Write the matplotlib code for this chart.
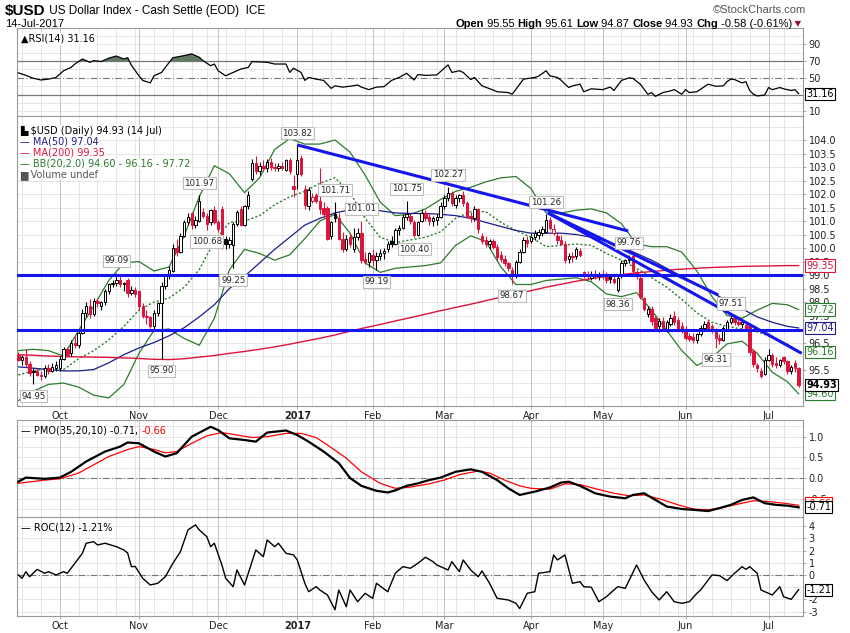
import matplotlib
matplotlib.use("Agg")
import matplotlib.pyplot as plt
import numpy as np
import pandas as pd

W, H = 850, 633

HOLIDAYS = ["2016-11-24", "2016-12-26", "2017-01-02", "2017-01-16",
            "2017-02-20", "2017-04-14", "2017-05-29", "2017-07-04"]

# daily candles 16-Sep-2016 .. 14-Jul-2017
opens = [
    96.05, 95.85, 95.95, 95.70, 95.40, 95.45, 95.30, 95.25, 95.55, 95.45, 95.55,
    95.55, 95.90, 96.25, 96.10, 96.50, 96.40, 96.85, 97.60, 97.85, 97.55, 98.05, 97.85, 98.00, 98.40, 98.65, 98.70, 98.80, 98.65, 98.80, 98.35, 98.45,
    98.40, 97.85, 97.50, 97.45, 97.10, 97.60, 97.95, 98.60, 98.95, 99.15, 100.00, 99.85, 100.45, 100.95, 101.30, 100.85, 101.00, 101.35, 101.20, 100.95, 101.40,
    100.95, 101.45, 100.35, 100.15, 100.10, 100.90, 101.45, 100.85, 101.55, 102.55, 103.15, 102.85, 103.05, 102.95, 103.20, 103.00, 102.95, 103.05, 102.90, 103.25, 102.30,
    102.75, 103.35, 102.20, 101.55, 101.75, 101.95, 101.75, 101.50, 101.50, 100.45, 101.25, 101.10, 100.35, 99.95, 100.40, 99.95, 100.40, 100.55, 99.60, 99.50,
    99.75, 99.55, 99.70, 99.80, 99.95, 100.25, 100.15, 100.65, 100.75, 101.15, 101.20, 100.95, 100.50, 101.00, 101.30, 101.15, 101.00, 101.05, 101.15,
    101.55, 101.85, 102.05, 101.60, 101.85, 101.95, 101.65, 101.20, 101.10, 101.45, 100.45, 100.30, 100.15, 100.25, 100.05, 99.75, 99.60, 99.45, 99.20, 98.95, 99.50, 99.85, 100.30,
    100.25, 100.40, 100.50, 100.55, 100.60, 101.05, 100.55, 100.45, 100.30, 100.15, 99.60, 99.70, 99.70, 99.90, 99.10, 99.00, 98.90, 99.05, 98.95,
    99.05, 98.95, 98.95, 98.85, 98.45, 98.95, 99.45, 99.55, 99.70, 99.10, 98.90, 98.15, 97.55, 97.75, 97.40, 97.10, 97.30, 97.00, 97.20, 97.50, 97.35, 97.10,
    97.00, 96.75, 96.70, 96.60, 96.80, 97.05, 97.25, 97.10, 97.00, 96.65, 96.60, 97.00, 97.25, 97.40, 97.25, 97.20, 97.15, 97.10, 96.20, 95.65, 95.45, 95.35,
    95.85, 96.05, 95.75, 95.65, 95.95, 95.80, 95.45, 95.75, 95.55,
]
highs = [
    96.15, 96.05, 96.25, 95.80, 95.55, 95.55, 95.45, 95.65, 95.70, 95.75, 95.80,
    96.00, 96.35, 96.35, 96.60, 96.75, 96.95, 97.75, 98.00, 98.10, 98.15, 98.15, 98.05, 98.50, 98.70, 98.80, 99.09, 98.95, 98.75, 98.90, 98.60, 98.55,
    98.45, 97.95, 97.70, 97.50, 97.70, 98.00, 98.75, 99.05, 99.35, 100.15, 100.35, 100.55, 101.05, 101.30, 101.35, 101.20, 101.97, 101.50, 101.30, 101.45, 101.55,
    101.05, 101.55, 100.45, 100.40, 100.95, 101.40, 101.55, 101.60, 102.10, 103.30, 103.40, 103.20, 103.25, 103.30, 103.35, 103.15, 103.15, 103.20, 103.30, 103.35, 102.70,
    103.82, 103.45, 102.35, 102.25, 102.05, 102.05, 102.95, 101.70, 101.55, 101.00, 101.71, 101.30, 100.60, 100.50, 100.55, 100.75, 100.75, 101.01, 99.85, 99.85,
    99.95, 99.85, 99.95, 100.00, 100.25, 100.45, 100.75, 100.85, 101.25, 101.75, 101.30, 101.05, 101.00, 101.45, 101.40, 101.25, 101.20, 101.25, 101.70,
    101.95, 102.27, 102.10, 101.95, 102.00, 102.10, 101.75, 101.35, 101.55, 101.50, 100.55, 100.45, 100.35, 100.35, 100.15, 99.90, 99.75, 99.50, 99.30, 99.55, 99.95, 100.40, 100.45,
    100.55, 100.65, 100.70, 100.80, 101.26, 101.15, 100.90, 100.60, 100.50, 100.25, 99.80, 99.85, 100.05, 100.00, 99.15, 99.15, 99.15, 99.20, 99.10,
    99.20, 99.10, 99.05, 98.95, 99.00, 99.55, 99.60, 99.76, 99.72, 99.20, 98.95, 98.20, 97.85, 97.85, 97.50, 97.40, 97.45, 97.35, 97.55, 97.65, 97.45, 97.25,
    97.10, 96.85, 96.85, 96.85, 97.15, 97.30, 97.35, 97.20, 97.05, 96.80, 97.10, 97.35, 97.51, 97.45, 97.40, 97.35, 97.25, 97.15, 96.25, 95.75, 95.55, 95.95,
    96.25, 96.10, 95.95, 95.90, 96.00, 95.85, 95.65, 95.85, 95.61,
]
lows = [
    95.80, 95.65, 95.60, 95.25, 94.95, 95.25, 95.10, 95.20, 95.35, 95.40, 95.45,
    95.45, 95.85, 95.95, 96.00, 96.30, 96.30, 96.80, 97.45, 97.40, 97.50, 97.80, 97.70, 97.90, 98.30, 98.55, 98.60, 98.55, 98.40, 98.20, 98.25, 98.20,
    97.70, 97.40, 97.20, 97.05, 97.00, 97.50, 95.90, 98.50, 98.85, 99.10, 99.70, 99.80, 100.40, 100.85, 100.70, 100.75, 100.95, 101.10, 100.68, 100.85, 100.90,
    100.60, 99.95, 99.95, 100.00, 99.25, 100.80, 100.80, 100.80, 101.45, 102.50, 102.75, 102.70, 102.85, 102.80, 102.90, 102.85, 102.85, 102.90, 102.85, 102.75, 101.90,
    102.20, 102.65, 101.45, 101.40, 101.65, 101.65, 101.25, 101.10, 100.30, 100.35, 100.95, 100.30, 99.85, 99.90, 100.05, 99.85, 100.30, 99.45, 99.40, 99.30,
    99.35, 99.19, 99.55, 99.60, 99.85, 100.05, 100.10, 100.50, 100.70, 101.05, 100.90, 100.40, 100.45, 100.95, 101.00, 100.85, 100.80, 100.85, 101.10,
    101.45, 101.75, 101.55, 101.50, 101.70, 101.55, 101.10, 100.95, 101.00, 100.55, 100.15, 100.05, 99.95, 99.95, 99.55, 99.50, 99.35, 99.15, 98.67, 98.90, 99.45, 99.80, 100.05,
    100.20, 100.30, 100.35, 100.45, 100.55, 100.65, 100.50, 100.15, 100.10, 99.45, 99.45, 99.50, 99.60, 99.65, 98.90, 98.80, 98.80, 98.85, 98.80,
    98.85, 98.70, 98.70, 98.65, 98.36, 98.90, 99.35, 99.45, 99.05, 98.85, 98.10, 97.65, 97.45, 97.15, 96.95, 96.90, 96.95, 96.90, 97.10, 97.15, 96.95, 96.85,
    96.60, 96.55, 96.50, 96.50, 96.75, 96.95, 97.00, 96.85, 96.31, 96.45, 96.55, 96.95, 97.20, 97.15, 97.10, 97.05, 96.95, 96.05, 95.60, 95.40, 95.17, 95.30,
    95.80, 95.60, 95.55, 95.60, 95.70, 95.35, 95.35, 95.40, 94.87,
]
closes = [
    95.85, 95.95, 95.70, 95.38, 95.45, 95.30, 95.25, 95.55, 95.45, 95.60, 95.65,
    95.90, 96.25, 96.05, 96.50, 96.40, 96.85, 97.60, 97.85, 97.55, 98.05, 97.95, 98.00, 98.40, 98.65, 98.70, 98.80, 98.65, 98.70, 98.35, 98.45, 98.30,
    97.85, 97.50, 97.45, 97.10, 97.60, 97.95, 98.60, 98.95, 99.20, 100.00, 99.85, 100.45, 100.95, 101.15, 100.85, 101.05, 101.75, 101.20, 100.90, 101.40, 100.95,
    100.70, 100.05, 100.15, 100.30, 100.90, 101.35, 100.85, 101.55, 101.95, 103.15, 102.85, 103.05, 102.95, 103.20, 103.00, 102.95, 103.05, 102.95, 103.25, 102.85, 102.20,
    103.25, 102.75, 101.60, 102.15, 101.90, 101.75, 101.45, 101.25, 100.35, 100.95, 101.10, 100.35, 99.95, 100.35, 100.15, 100.40, 100.55, 99.55, 99.50, 99.80,
    99.55, 99.70, 99.80, 99.90, 100.15, 100.15, 100.65, 100.75, 101.15, 101.25, 101.00, 100.50, 100.95, 101.30, 101.10, 101.00, 101.10, 101.15, 101.55,
    101.85, 102.05, 101.65, 101.85, 101.95, 101.65, 101.20, 101.10, 101.45, 100.70, 100.25, 100.15, 100.25, 100.05, 99.65, 99.60, 99.45, 99.25, 98.95, 99.50, 99.85, 100.30, 100.20,
    100.40, 100.55, 100.60, 100.70, 101.05, 100.75, 100.70, 100.30, 100.15, 99.55, 99.70, 99.65, 99.95, 99.75, 99.00, 98.95, 99.05, 98.95, 99.05,
    98.95, 98.80, 98.85, 98.75, 98.90, 99.45, 99.55, 99.60, 99.15, 98.95, 98.20, 97.75, 97.75, 97.30, 97.05, 97.30, 97.05, 97.25, 97.40, 97.25, 97.05, 96.95,
    96.65, 96.62, 96.60, 96.80, 97.05, 97.20, 97.05, 96.95, 96.65, 96.60, 97.05, 97.25, 97.40, 97.25, 97.20, 97.25, 97.05, 96.15, 95.70, 95.55, 95.25, 95.85,
    96.05, 95.70, 95.65, 95.85, 95.80, 95.45, 95.60, 95.55, 94.93,
]

# overlays, read every 4th session (plus the last one)
samp_idx = list(range(0, 205, 4)) + [207]
ma50 = [95.60, 95.55, 95.50, 95.45, 95.45, 95.50, 95.75, 96.05, 96.30, 96.50, 96.75, 97.05, 97.45, 97.90,
        98.50, 98.95, 99.45, 99.95, 100.40, 100.85, 101.10, 101.30, 101.42, 101.42, 101.38, 101.30, 101.28,
        101.28, 101.25, 101.20, 101.10, 100.95, 100.80, 100.65, 100.55, 100.55, 100.55, 100.50, 100.40, 100.25,
        100.05, 99.80, 99.55, 99.25, 98.95, 98.65, 98.35, 98.05, 97.75, 97.45, 97.25, 97.10, 97.04]
ma200 = [96.05, 96.03, 96.00, 95.98, 95.97, 95.96, 95.95, 95.93, 95.91, 95.88, 95.87, 95.90, 95.96, 96.02,
         96.10, 96.17, 96.25, 96.34, 96.44, 96.55, 96.66, 96.78, 96.92, 97.05, 97.17, 97.30, 97.42, 97.55,
         97.68, 97.80, 97.92, 98.05, 98.18, 98.30, 98.42, 98.55, 98.66, 98.77, 98.87, 98.95, 99.02, 99.08,
         99.13, 99.18, 99.22, 99.25, 99.28, 99.30, 99.32, 99.33, 99.34, 99.35, 99.35]
bb_up = [96.2, 96.25, 96.2, 96.0, 96.95, 97.85, 98.8, 99.45, 99.5, 99.15, 99.3, 100.45, 101.9, 103.05,
         102.75, 102.05, 102.6, 103.65, 104.05, 103.85, 103.85, 104.0, 103.55, 102.7, 101.7, 101.2, 101.25,
         101.45, 101.8, 102.1, 102.25, 102.45, 102.6, 102.65, 102.2, 101.3, 101.3, 101.4, 101.45, 101.3,
         100.9, 100.15, 100.05, 100.05, 99.85, 99.15, 98.2, 97.5, 97.4, 97.7, 97.95, 97.9, 97.72]
bb_mid = [95.3, 95.45, 95.55, 95.5, 95.9, 96.2, 96.6, 97.1, 97.7, 98.0, 98.15, 98.55, 99.2, 100.25,
          100.95, 101.0, 101.2, 101.6, 101.9, 102.1, 102.4, 102.6, 102.05, 101.1, 100.4, 100.2, 100.3,
          100.4, 100.6, 101.1, 101.35, 101.35, 100.95, 100.65, 100.4, 100.05, 100.1, 100.15, 100.1, 99.8,
          99.55, 99.25, 98.9, 98.55, 98.1, 97.6, 97.25, 97.1, 97.0, 96.9, 96.7, 96.45, 96.16]
bb_lo = [94.35, 94.7, 94.95, 95.0, 94.85, 94.55, 94.45, 94.95, 96.1, 96.95, 97.0, 96.65, 96.4, 97.4,
         99.2, 99.95, 99.8, 99.55, 99.75, 100.35, 101.0, 101.25, 100.55, 99.45, 99.1, 99.25, 99.3,
         99.35, 99.45, 100.1, 100.45, 100.25, 99.3, 98.65, 98.65, 98.8, 98.85, 98.9, 98.75, 98.3,
         98.2, 98.35, 97.7, 96.95, 96.2, 95.65, 95.95, 96.45, 96.55, 96.1, 95.4, 95.05, 94.6]

rsi_idx = [0, 2, 4, 6, 8, 10, 12, 14, 15, 17, 19, 20, 22, 24, 26, 28, 29, 30, 32, 33, 35, 36, 38, 39, 41,
           44, 46, 48, 49, 51, 52, 53, 55, 57, 59, 61, 62, 66, 68, 71, 72, 73, 75, 76, 77, 79, 81, 83, 84,
           86, 88, 90, 91, 93, 95, 97, 99, 101, 103, 105, 106, 108, 111, 114, 115, 117, 118, 120, 121, 123,
           126, 127, 130, 131, 133, 134, 137, 138, 140, 141, 143, 144, 146, 147, 149, 150, 152, 155, 157,
           158, 160, 162, 163, 165, 167, 168, 169, 171, 173, 174, 176, 177, 178, 180, 183, 185, 187, 188,
           189, 190, 192, 193, 194, 195, 196, 198, 199, 200, 202, 203, 205, 206, 207]
rsi_val = [56, 53, 49.5, 47.5, 48.5, 50.5, 58.5, 62.5, 66.5, 72.5, 68.5, 70.5, 69.5, 73.5, 76, 72.5, 74,
           65, 52.5, 47, 44, 52.5, 56.5, 62.5, 74, 76.5, 78.5, 74.5, 70.5, 64.5, 66.5, 58.5, 52.5, 56.5,
           60.5, 62.5, 69.5, 68.5, 66.5, 66.5, 56.5, 61.5, 56.5, 47, 50.5, 48.5, 47, 37.5, 40.5, 39, 40,
           41.5, 39, 36, 39, 39.5, 47, 50.5, 55.5, 47.5, 54, 53, 53.5, 65.5, 56.5, 58.5, 56.5, 48, 50.5,
           40.5, 35.5, 33.5, 32.5, 30.5, 42.5, 48.5, 50.5, 52, 58.5, 52.5, 50.5, 47, 38.5, 40.5, 42.5,
           33.5, 37, 36, 39, 35, 47, 50, 49.5, 42.5, 30.5, 32.5, 28, 32.5, 34.5, 36, 30.5, 36, 32.5, 33.5,
           42.5, 40, 40.5, 45.5, 48.5, 48, 44, 45.5, 35, 30.5, 28.5, 29.5, 38.5, 36, 38.5, 37, 35, 36, 31.16]

pmo_idx = [0, 2, 7, 11, 14, 18, 23, 27, 29, 32, 36, 39, 42, 46, 51, 53, 56, 60, 63, 66, 71, 74, 77, 81,
           85, 88, 91, 95, 98, 100, 103, 106, 109, 112, 116, 120, 123, 127, 130, 133, 137, 141, 144, 146,
           149, 153, 157, 161, 163, 166, 169, 172, 176, 179, 183, 186, 189, 192, 195, 198, 201, 204, 207]
pmo_val = [-0.09, 0.01, -0.02, 0.01, 0.15, 0.40, 0.64, 0.76, 0.86, 0.84, 0.64, 0.52, 0.60, 1.00, 1.24,
           1.16, 0.96, 0.92, 0.88, 1.10, 1.15, 1.04, 0.88, 0.64, 0.36, 0.0, -0.19, -0.31, -0.35, -0.30,
           -0.19, -0.13, -0.05, 0.01, 0.15, 0.21, 0.15, -0.05, -0.25, -0.41, -0.33, -0.23, -0.11, -0.09,
           -0.19, -0.37, -0.45, -0.49, -0.41, -0.37, -0.53, -0.69, -0.75, -0.77, -0.80, -0.73, -0.65,
           -0.53, -0.47, -0.61, -0.65, -0.67, -0.71]
sig_idx = [0, 7, 11, 16, 20, 24, 29, 32, 36, 39, 42, 46, 50, 54, 58, 62, 66, 71, 75, 79, 82, 87, 91, 96,
           100, 104, 109, 113, 117, 122, 125, 129, 133, 136, 141, 145, 149, 154, 158, 162, 166, 171, 175,
           179, 183, 187, 192, 195, 199, 203, 207]
sig_val = [-0.13, -0.05, -0.02, 0.12, 0.32, 0.52, 0.69, 0.76, 0.69, 0.61, 0.64, 0.84, 1.02, 1.10, 1.04,
           0.98, 1.00, 1.08, 1.08, 0.98, 0.80, 0.48, 0.15, -0.13, -0.25, -0.22, -0.14, -0.05, 0.08, 0.17,
           0.12, -0.05, -0.19, -0.25, -0.27, -0.14, -0.16, -0.28, -0.37, -0.43, -0.41, -0.53, -0.65, -0.75,
           -0.77, -0.71, -0.61, -0.55, -0.57, -0.61, -0.66]

roc_idx = [0, 1, 2, 3, 5, 7, 8, 10, 12, 13, 15, 17, 18, 20, 21, 23, 26, 28, 29, 30, 31, 33, 35, 37, 39,
           41, 43, 45, 47, 48, 50, 51, 52, 54, 55, 57, 58, 60, 61, 63, 65, 66, 68, 69, 71, 73, 74, 76, 77,
           79, 80, 82, 84, 85, 87, 88, 90, 92, 94, 95, 98, 100, 102, 104, 106, 108, 110, 111, 114, 115, 117,
           118, 120, 122, 123, 125, 127, 130, 132, 133, 135, 137, 138, 141, 142, 143, 145, 147, 149, 150,
           152, 154, 156, 159, 161, 164, 166, 168, 170, 172, 174, 176, 178, 180, 181, 184, 186, 188, 190,
           192, 193, 194, 196, 197, 200, 202, 203, 205, 206, 207]
roc_val = [0.0, -0.27, 0.27, -0.14, 0.46, 0.14, 0.27, 0.0, 0.27, 0.14, 0.96, 1.78, 2.6, 2.73, 2.46, 2.6,
           2.32, 2.05, 1.8, 0.68, 0.7, -0.27, -0.82, -0.68, -0.14, 0.96, 1.91, 3.69, 4.1, 3.69, 3.14, 2.32,
           2.6, 0.82, -0.27, -0.96, 0.41, -0.82, 0.14, 2.05, 1.5, 2.87, 2.32, 2.6, 1.78, 1.64, 1.23, -0.68,
           -1.37, -0.96, -1.23, -1.64, -2.85, -1.23, -2.6, -1.23, -2.19, -1.5, -1.91, -0.68, -1.37, 0.14,
           0.68, 0.55, 0.96, 1.45, 1.09, 0.82, 0.41, 1.09, 0.27, 1.23, 0.41, -0.14, 0.33, -0.68, -1.91,
           -2.05, -2.32, -2.75, -1.5, -1.37, 0.14, 0.27, 1.64, 1.23, 1.64, -0.68, -0.55, -0.96, -1.0,
           -2.19, -1.78, -0.96, -1.09, 0.82, -0.41, -1.37, -2.05, -1.37, -2.19, -2.32, -2.19, -1.5, -1.23,
           0.0, -0.05, -0.46, 0.14, 0.68, 0.46, 0.68, 0.14, -1.23, -1.64, -0.96, -1.78, -2.0, -1.6, -1.21]

# hand drawn trend lines (session index, price)
hlines = [99.0, 96.95]
trend_lines = [
    ((74, 103.82), (161.8, 100.63)),
    ((140.5, 101.3), (207.8, 96.1)),
    ((140.5, 101.3), (185.7, 98.26)),
]

# swing high/low annotations
swing_idx = [4, 26, 38, 48, 50, 57, 74, 84, 91, 95, 103, 105, 114, 131, 140, 159, 162, 185, 189]
swing_val = [94.95, 99.09, 95.90, 101.97, 100.68, 99.25, 103.82, 101.71, 101.01, 99.19, 101.75, 100.40,
             102.27, 98.67, 101.26, 98.36, 99.76, 96.31, 97.51]
swing_up = [False, True, False, True, False, False, True, True, True, False, True, False,
            True, False, True, False, True, False, True]

# right-axis ticks (labels hidden under the value tags are left out)
price_ticks = [95.5, 96.5, 97.5, 98.0, 98.5, 99.0, 99.5, 100.0, 100.5, 101.0, 101.5, 102.0,
               102.5, 103.0, 103.5, 104.0]
rsi_ticks = [10, 50, 70, 90]
pmo_ticks = [-0.5, 0.0, 0.5, 1.0]
roc_ticks = [-3, -2, 0, 1, 2, 3, 4]

RED = "#dc143c"
BLACK = "#000000"
GREEN = "#2c7a2c"
NAVY = "#1c1c8c"
BLUE = "#1515ee"
GRID = "#e2e2e2"
GRID_M = "#c4c4c4"
NARROW = ["Liberation Sans Narrow", "Liberation Sans", "DejaVu Sans"]

dates = pd.bdate_range("2016-09-16", "2017-07-14")
dates = dates[~dates.isin(pd.to_datetime(HOLIDAYS))]
n = len(dates)
x = np.arange(n)
month_idx = [i for i in range(1, n) if dates[i].month != dates[i - 1].month]
week_idx = [i for i in range(1, n) if dates[i].isocalendar()[1] != dates[i - 1].isocalendar()[1]]
month_lbl = ["2017" if dates[i].month == 1 else dates[i].strftime("%b") for i in month_idx]

XMIN, XMAX = -0.35, 208.15

fig = plt.figure(figsize=(W / 100, H / 100), dpi=100)


def px_axes(x0, y0, x1, y1):
    return fig.add_axes([x0 / W, 1 - y1 / H, (x1 - x0) / W, (y1 - y0) / H])


def style(ax, ylim, grid_vals, ticks, fmt):
    ax.set_xlim(XMIN, XMAX)
    ax.set_ylim(*ylim)
    for v in grid_vals:
        ax.axhline(v, color=GRID, lw=0.6, zorder=0)
    for i in week_idx:
        ax.axvline(i, color=GRID, lw=0.6, zorder=0)
    for i in month_idx:
        ax.axvline(i, color=GRID_M, lw=0.7, zorder=0)
    ax.yaxis.tick_right()
    ax.set_yticks(ticks)
    ax.set_yticklabels([fmt.format(t) for t in ticks])
    ax.tick_params(axis="y", length=2.5, width=0.6, color="#999999", labelsize=7,
                   pad=1.5, labelcolor="#222222")
    ax.set_xticks([])
    for s in ax.spines.values():
        s.set_color("#9a9a9a")
        s.set_linewidth(0.8)


def x_labels(ax):
    ax.set_xticks(month_idx)
    ax.set_xticklabels(month_lbl)
    ax.tick_params(axis="x", length=2, width=0.6, color="#999999", labelsize=7, pad=1.5,
                   labelcolor="#222222")
    for t in ax.get_xticklabels():
        if t.get_text() == "2017":
            t.set_fontweight("bold")


def tag(ax, val, txt, color, bold=False):
    ax.text(1.004, val, txt, transform=ax.get_yaxis_transform(), ha="left", va="center",
            fontsize=7, color=color, fontweight="bold" if bold else "normal", clip_on=False,
            zorder=10, bbox=dict(boxstyle="square,pad=0.12", fc="white", ec=color, lw=0.8))


# ---------------- RSI panel ----------------
ax_rsi = px_axes(17, 28, 803, 116)
style(ax_rsi, (4.6, 109.4), [10, 20, 40, 60, 80, 90, 100], rsi_ticks, "{:d}")
ax_rsi.axhline(70, color="#777777", lw=0.9, zorder=1)
ax_rsi.axhline(30, color="#777777", lw=0.9, zorder=1)
ax_rsi.axhline(50, color="#777777", lw=0.8, ls=(0, (6, 2, 1, 2)), zorder=1)
ri = np.array(rsi_idx)
rv = np.array(rsi_val)
ax_rsi.fill_between(ri, rv, 70, where=rv > 70, interpolate=True, color="#5f7a5f", lw=0, zorder=2)
ax_rsi.plot(ri, rv, color="black", lw=0.9, zorder=3)
tag(ax_rsi, rsi_val[-1], "31.16", BLACK)
ax_rsi.text(0.005, 0.88, "\u25B2RSI(14) 31.16", transform=ax_rsi.transAxes, fontsize=7,
            va="center", ha="left", zorder=6,
            bbox=dict(boxstyle="square,pad=0.1", fc="white", ec="none"))

# ---------------- price panel ----------------
ax = px_axes(17, 116, 803, 406)
style(ax, (94.15, 104.89), np.arange(94.5, 104.6, 0.5), price_ticks, "{:.1f}")
x_labels(ax)

ax.plot(samp_idx, bb_up, color=GREEN, lw=0.9, zorder=2)
ax.plot(samp_idx, bb_lo, color=GREEN, lw=0.9, zorder=2)
ax.plot(samp_idx, bb_mid, color=GREEN, lw=1.0, ls=(0, (1.5, 1.5)), zorder=2)
ax.plot(samp_idx, ma50, color=NAVY, lw=0.9, zorder=2)
ax.plot(samp_idx, ma200, color=RED, lw=1.0, zorder=2)

o = np.array(opens)
h = np.array(highs)
lo = np.array(lows)
c = np.array(closes)
prev = np.concatenate([[o[0]], c[:-1]])
col = np.where(c >= prev, BLACK, RED)
face = np.where(c >= o, "white", col)
body_lo = np.minimum(o, c)
body_h = np.maximum(np.abs(c - o), 0.025)
ax.vlines(x, np.minimum(lo, body_lo), np.maximum(h, body_lo + body_h), colors=col, lw=0.8, zorder=3)
ax.bar(x, body_h, bottom=body_lo, width=0.64, color=face, edgecolor=col, linewidth=0.7, zorder=4)

for v in hlines:
    ax.axhline(v, color=BLUE, lw=2.2, zorder=5)
for (i0, p0), (i1, p1) in trend_lines:
    ax.plot([i0, i1], [p0, p1], color=BLUE, lw=2.2, solid_capstyle="butt", zorder=5)

for i, v, up in zip(swing_idx, swing_val, swing_up):
    ax.annotate(f"{v:.2f}", xy=(i, v), xytext=(0, 8.5 if up else -8.5), textcoords="offset points",
                ha="center", va="center", fontsize=6.2, color="#222222", zorder=7,
                bbox=dict(boxstyle="square,pad=0.18", fc="white", ec="#bdbdbd", lw=0.8))

tag(ax, 99.35, "99.35", RED)
tag(ax, 97.72, "97.72", GREEN)
tag(ax, 97.04, "97.04", NAVY)
tag(ax, 96.16, "96.16", GREEN)
tag(ax, 94.60, "94.60", GREEN)
tag(ax, 94.93, "94.93", BLACK, bold=True)

leg = [("\u2599 $USD (Daily) 94.93 (14 Jul)", "black"),
       ("\u2014 MA(50) 97.04", NAVY),
       ("\u2014 MA(200) 99.35", RED),
       ("\u2014 BB(20,2.0) 94.60 - 96.16 - 97.72", GREEN),
       ("\u2587 Volume undef", "#555555")]
for k, (t, cc) in enumerate(leg):
    fig.text(20 / W, 1 - (131 + 10.8 * k) / H, t, fontsize=7, color=cc, ha="left", va="center",
             bbox=dict(boxstyle="square,pad=0.05", fc="white", ec="none"))

# ---------------- PMO panel ----------------
ax_pmo = px_axes(17, 420, 803, 517)
style(ax_pmo, (-0.944, 1.404), np.arange(-0.75, 1.3, 0.25), pmo_ticks, "{:.1f}")
ax_pmo.axhline(0, color="#777777", lw=0.8, ls=(0, (6, 2, 1, 2)), zorder=1)
ax_pmo.plot(sig_idx, sig_val, color="#ff0000", lw=0.9, zorder=3)
ax_pmo.plot(pmo_idx, pmo_val, color="black", lw=1.6, zorder=4)
tag(ax_pmo, -0.62, "-0.66", "#ff0000")
tag(ax_pmo, -0.71, "-0.71", BLACK)
t1 = ax_pmo.text(0.005, 0.89, "\u2014 PMO(35,20,10) -0.71, ", transform=ax_pmo.transAxes,
                 fontsize=7, va="center", ha="left", zorder=6)
ax_pmo.annotate("-0.66", xy=(1, 0.5), xycoords=t1, ha="left", va="center", fontsize=7,
                color="#ff0000", zorder=6)

# ---------------- ROC panel ----------------
ax_roc = px_axes(17, 517, 803, 616)
style(ax_roc, (-3.36, 4.75), np.arange(-3, 5, 1), roc_ticks, "{:d}")
ax_roc.axhline(0, color="#777777", lw=0.8, ls=(0, (6, 2, 1, 2)), zorder=1)
ax_roc.plot(roc_idx, roc_val, color="black", lw=1.0, zorder=3)
tag(ax_roc, -1.21, "-1.21", BLACK)
ax_roc.text(0.005, 0.89, "\u2014 ROC(12) -1.21%", transform=ax_roc.transAxes, fontsize=7,
            va="center", ha="left", zorder=6)
x_labels(ax_roc)

# ---------------- header ----------------
t = fig.text(5 / W, 1 - 11 / H, "$USD", fontsize=11, fontweight="bold", family=NARROW,
             ha="left", va="center")
plt.annotate(" US Dollar Index - Cash Settle (EOD)  ICE", xy=(1, 0.5), xycoords=t,
             ha="left", va="center", fontsize=8.5, family=NARROW)
fig.text(5 / W, 1 - 24 / H, "14-Jul-2017", fontsize=8, family=NARROW, ha="left", va="center")
fig.text(806 / W, 1 - 10 / H, "\u00a9StockCharts.com", fontsize=8, family=NARROW,
         color="#555555", ha="right", va="center")

parts = [("Open", True, "black"), (" 95.55 ", False, "black"), ("High", True, "black"),
         (" 95.61 ", False, "black"), ("Low", True, "black"), (" 94.87 ", False, "black"),
         ("Close", True, "black"), (" 94.93 ", False, "black"), ("Chg", True, "black"),
         (" -0.58 (-0.61%)", False, "black"), (" \u25BC", False, "#8b1a3a")]
prev_t = fig.text(455 / W, 1 - 24 / H, parts[0][0], fontsize=8, fontweight="bold", family=NARROW,
                  ha="left", va="center")
for txt, bold, cc in parts[1:]:
    fam = NARROW if txt.strip() != "\u25BC" else ["DejaVu Sans"]
    fs = 8 if fam is NARROW else 6
    prev_t = plt.annotate(txt, xy=(1, 0.5), xycoords=prev_t, ha="left", va="center", fontsize=fs,
                          fontweight="bold" if bold else "normal", family=fam, color=cc)

fig.savefig("out.png", dpi=100, facecolor="white")
